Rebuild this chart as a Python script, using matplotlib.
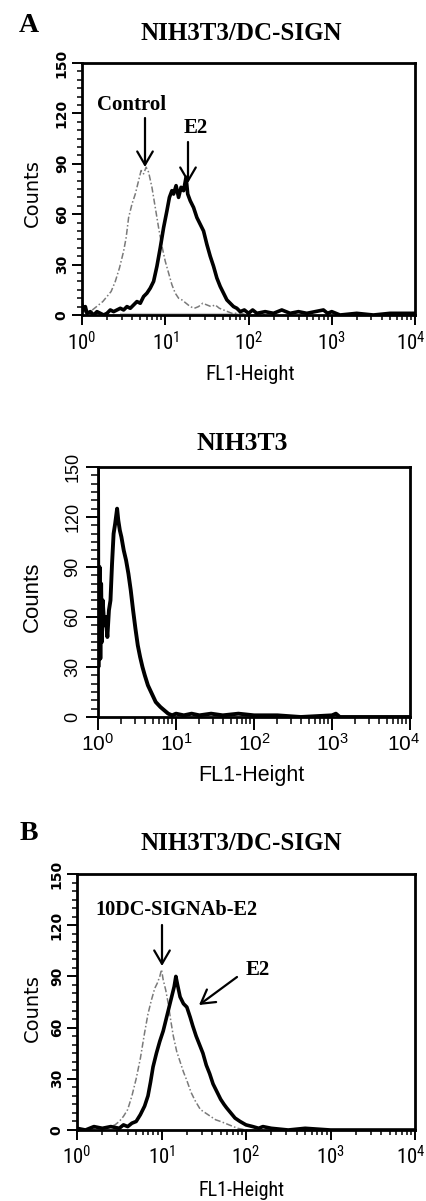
import numpy as np
import matplotlib
matplotlib.use("Agg")
import matplotlib.pyplot as plt
from matplotlib.ticker import FixedLocator, MultipleLocator, LogLocator, NullFormatter
from matplotlib.font_manager import FontProperties
from matplotlib.transforms import ScaledTranslation

plt.rcParams["mathtext.default"] = "regular"

# ---------------- data (x in log10 of FL1-Height, y = counts) ----------------
# Panel A top: NIH3T3/DC-SIGN, Control (dashed) and E2 (solid)
ctrl_a_log = [0.0, 0.05, 0.1, 0.15, 0.2, 0.25, 0.3, 0.35, 0.4, 0.45, 0.5, 0.53, 0.56, 0.6,
              0.64, 0.68, 0.71, 0.74, 0.77, 0.8, 0.84, 0.88, 0.92, 0.96, 1.0, 1.04, 1.08,
              1.12, 1.16, 1.2, 1.25, 1.3, 1.35, 1.4, 1.45, 1.5, 1.55, 1.6, 1.65, 1.7, 1.75,
              1.8, 1.9, 2.0, 2.2]
ctrl_a_cnt = [3, 1, 2, 4, 6, 8, 11, 14, 20, 28, 38, 46, 58, 66,
              72, 80, 86, 84, 88, 85, 76, 64, 52, 41, 32, 25, 18,
              13, 10, 9, 7, 5, 4, 5, 7, 6, 5, 6, 4, 3, 2,
              1, 1, 0, 0]

e2_a_log = [0.0, 0.02, 0.04, 0.06, 0.1, 0.14, 0.18, 0.22, 0.26, 0.3, 0.34, 0.38, 0.42, 0.46,
            0.5, 0.54, 0.58, 0.62, 0.66, 0.7, 0.74, 0.78, 0.82, 0.86, 0.9, 0.94, 0.98, 1.02,
            1.05, 1.08, 1.1, 1.13, 1.16, 1.19, 1.22, 1.25, 1.27, 1.3, 1.34, 1.38, 1.42, 1.46,
            1.5, 1.54, 1.58, 1.62, 1.66, 1.7, 1.74, 1.78, 1.82, 1.86, 1.9, 1.95, 2.0, 2.05,
            2.1, 2.2, 2.3, 2.4, 2.5, 2.6, 2.7, 2.8, 2.9, 2.95, 3.0, 3.1, 3.3, 3.5, 3.7, 4.0]
e2_a_cnt = [6, 3, 5, 1, 2, 0, 2, 1, 0, 1, 3, 2, 3, 4,
            3, 5, 4, 6, 8, 7, 11, 13, 16, 20, 29, 40, 52, 62,
            70, 74, 72, 77, 70, 76, 74, 82, 72, 68, 64, 58, 54, 50,
            42, 35, 29, 22, 17, 13, 9, 7, 5, 4, 2, 3, 1, 3,
            1, 2, 1, 3, 1, 2, 1, 2, 3, 1, 2, 0, 1, 0, 1, 1]

gate_a_log = [0.46, 1.87]

# Panel A bottom: NIH3T3
nih_log = [0.0, 0.005, 0.02, 0.03, 0.04, 0.05, 0.06, 0.08, 0.1, 0.12, 0.14, 0.16, 0.18, 0.2,
           0.22, 0.245, 0.26, 0.28, 0.3, 0.33, 0.36, 0.39, 0.42, 0.45, 0.48, 0.51, 0.54,
           0.57, 0.6, 0.64, 0.69, 0.74, 0.8, 0.85, 0.9, 0.95, 1.0, 1.1, 1.2, 1.3, 1.45,
           1.6, 1.8, 2.0, 2.3, 2.6, 3.0, 3.05, 3.1, 4.0]
nih_cnt = [160, 30, 90, 35, 80, 45, 70, 55, 60, 48, 64, 70, 92, 110,
           116, 125, 118, 112, 108, 100, 94, 86, 76, 64, 53, 43, 36,
           30, 25, 19, 14, 9, 6, 4, 2, 1, 2, 1, 2, 1, 2,
           1, 2, 1, 1, 0, 1, 2, 0, 0]

# Panel B: NIH3T3/DC-SIGN, 10DC-SIGNAb-E2 (dashed) and E2 (solid)
ctrl_b_log = [0.0, 0.3, 0.4, 0.45, 0.5, 0.55, 0.6, 0.65, 0.7, 0.75, 0.8, 0.84, 0.88, 0.92,
              0.95, 0.98, 1.0, 1.02, 1.05, 1.08, 1.11, 1.14, 1.18, 1.22, 1.26, 1.3, 1.35,
              1.4, 1.46, 1.52, 1.58, 1.64, 1.7, 1.75, 1.8, 1.9, 2.0, 2.2]
ctrl_b_cnt = [0, 1, 2, 3, 5, 8, 12, 20, 30, 42, 57, 68, 76, 83,
              86, 90, 94, 88, 82, 74, 64, 55, 46, 40, 34, 29, 22,
              17, 12, 10, 8, 6, 5, 4, 3, 1, 0, 0]

e2_b_log = [0.0, 0.1, 0.2, 0.3, 0.4, 0.5, 0.55, 0.6, 0.65, 0.7, 0.75, 0.8, 0.84, 0.87,
            0.9, 0.94, 0.98, 1.02, 1.06, 1.09, 1.12, 1.15, 1.17, 1.19, 1.22, 1.26, 1.3,
            1.34, 1.37, 1.41, 1.45, 1.49, 1.53, 1.57, 1.61, 1.65, 1.7, 1.74, 1.77, 1.82,
            1.87, 1.93, 2.0, 2.08, 2.15, 2.2, 2.3, 2.5, 2.7, 3.0, 4.0]
e2_b_cnt = [1, 0, 2, 1, 2, 1, 3, 2, 4, 5, 9, 14, 20, 28,
            37, 45, 52, 58, 66, 72, 78, 84, 90, 85, 78, 74, 72,
            66, 61, 55, 50, 45, 38, 33, 27, 23, 18, 15, 13, 10,
            7, 5, 3, 2, 1, 2, 1, 0, 1, 0, 0]

x_major = [1, 10, 100, 1000, 10000]
x_labels = ["$10^{0}$", "$10^{1}$", "$10^{2}$", "$10^{3}$", "$10^{4}$"]
y_major = [0, 30, 60, 90, 120, 150]

# ---------------- figure ----------------
W, H = 426, 1201
fig = plt.figure(figsize=(W / 100, H / 100), dpi=100)


def rect(l, t, r, b):
    return [l / W, 1 - b / H, (r - l) / W, (b - t) / H]


def fp(x, y):
    return (x / W, 1 - y / H)


SERIF = "Liberation Serif"
NARROW = ["Roboto Condensed", "Liberation Sans"]


def setup(ax, ytick_font, xtick_font, maj_len, min_len, ypad, xpad, last_shift):
    ax.set_xscale("log")
    ax.set_xlim(1, 1e4)
    ax.set_ylim(0, 150)
    ax.xaxis.set_major_locator(FixedLocator(x_major))
    ax.set_xticklabels(x_labels)
    ax.xaxis.set_minor_locator(LogLocator(base=10, subs=np.arange(2, 10)))
    ax.xaxis.set_minor_formatter(NullFormatter())
    ax.yaxis.set_major_locator(FixedLocator(y_major))
    ax.set_yticklabels([str(v) for v in y_major])
    ax.yaxis.set_minor_locator(MultipleLocator(5))
    ax.tick_params(which="major", direction="out", length=maj_len, width=1.4, color="black")
    ax.tick_params(which="minor", direction="out", length=min_len, width=1.1, color="black")
    ax.tick_params(axis="y", pad=ypad)
    ax.tick_params(axis="x", pad=xpad)
    for lab in ax.get_yticklabels():
        lab.set_rotation(90)
        lab.set_va("center")
        lab.set_fontproperties(ytick_font)
    labs = ax.get_xticklabels()
    for lab in labs:
        lab.set_fontproperties(xtick_font)
    last = labs[-1]
    last.set_transform(last.get_transform() + ScaledTranslation(-last_shift / 100, 0, fig.dpi_scale_trans))
    for sp in ax.spines.values():
        sp.set_linewidth(2.0)
        sp.set_color("black")


dash = (0, (4, 1.5, 1, 1.5))

# ---- Panel A top ----
ax1 = fig.add_axes(rect(82, 63, 415, 315))
ax1.plot([10 ** v for v in gate_a_log], [0, 0], color="#c8c8c8", lw=3, solid_capstyle="butt", zorder=1)
ax1.plot([10 ** v for v in ctrl_a_log], ctrl_a_cnt, color="#7a7a7a", lw=1.1, ls=dash, zorder=2)
ax1.plot([10 ** v for v in e2_a_log], e2_a_cnt, color="black", lw=2.6, zorder=3)
setup(ax1, FontProperties(family="DejaVu Sans", size=10, weight="bold"),
      FontProperties(family=NARROW, size=15), 7, 3.5, 2.5, 5, 4)

# ---- Panel A bottom ----
ax2 = fig.add_axes(rect(98, 467, 410, 717))
ax2.plot([10 ** v for v in nih_log], nih_cnt, color="black", lw=2.8, zorder=3)
setup(ax2, FontProperties(family="Liberation Sans", size=13),
      FontProperties(family="Liberation Sans", size=15), 9, 5, 3, 2.5, 6)

# ---- Panel B ----
ax3 = fig.add_axes(rect(77, 874, 415, 1130))
ax3.plot([10 ** v for v in ctrl_b_log], ctrl_b_cnt, color="#7a7a7a", lw=1.1, ls=dash, zorder=2)
ax3.plot([10 ** v for v in e2_b_log], e2_b_cnt, color="black", lw=2.6, zorder=3)
setup(ax3, FontProperties(family="DejaVu Sans", size=10, weight="bold"),
      FontProperties(family=NARROW, size=15), 7, 3.5, 2.5, 4, 4)

# ---------------- texts ----------------
def ftext(x, y, s, **kw):
    fig.text(*fp(x, y), s, ha="center", va="center", **kw)


ftext(29, 26, "A", family=SERIF, weight="bold", size=20)
ftext(241, 33, "NIH3T3/DC-SIGN", family=SERIF, weight="bold", size=18)
ftext(132, 105, "Control", family=SERIF, weight="bold", size=15)
ftext(196, 128, "E2", family=SERIF, weight="bold", size=15)
ftext(32, 193, "Counts", family="DejaVu Sans", size=14, rotation=90)
ftext(250, 375, "FL1-Height", family=NARROW, size=15)

ftext(242, 443, "NIH3T3", family=SERIF, weight="bold", size=18.5)
ftext(32, 597, "Counts", family="Liberation Sans", size=16, rotation=90)
ftext(251, 775, "FL1-Height", family="Liberation Sans", size=15.5)

ftext(29, 834, "B", family=SERIF, weight="bold", size=20)
ftext(241, 843, "NIH3T3/DC-SIGN", family=SERIF, weight="bold", size=18)
ftext(176, 910, "10DC-SIGNAb-E2", family=SERIF, weight="bold", size=14.6)
ftext(258, 970, "E2", family=SERIF, weight="bold", size=15)
ftext(32, 1008, "Counts", family="DejaVu Sans", size=14, rotation=90)
ftext(242, 1190, "FL1-Height", family=NARROW, size=14.5)

arrow_kw = dict(arrowstyle="->,head_length=0.6,head_width=0.35", lw=1.6, color="black",
                mutation_scale=16, shrinkA=0, shrinkB=0)
for (x0, y0, x1, y1) in [(145, 118, 145, 167), (188, 142, 188, 183),
                         (162, 925, 162, 966), (237, 977, 199, 1005)]:
    fig.add_artist(matplotlib.patches.FancyArrowPatch(fp(x0, y0), fp(x1, y1),
                                                      transform=fig.transFigure, **arrow_kw))

fig.savefig("out.png", dpi=100)
